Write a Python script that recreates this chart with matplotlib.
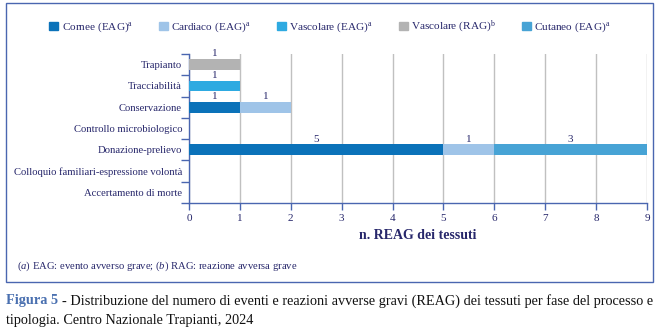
import matplotlib
matplotlib.use('Agg')
import matplotlib.pyplot as plt
from matplotlib.patches import Rectangle, Patch
import numpy as np

plt.rcParams['font.family'] = 'Liberation Serif'
plt.rcParams['mathtext.fontset'] = 'custom'
plt.rcParams['mathtext.rm'] = 'Liberation Serif'
plt.rcParams['mathtext.it'] = 'Liberation Serif:italic'

# data
phases = ['Trapianto', 'Tracciabilità', 'Conservazione', 'Controllo microbiologico',
          'Donazione-prelievo', 'Colloquio familiari-espressione volontà',
          'Accertamento di morte']
series = ['Cornee (EAG)$^{\\mathrm{a}}$', 'Cardiaco (EAG)$^{\\mathrm{a}}$',
          'Vascolare (EAG)$^{\\mathrm{a}}$', 'Vascolare (RAG)$^{\\mathrm{b}}$',
          'Cutaneo (EAG)$^{\\mathrm{a}}$']
cornee = [0, 0, 1, 0, 5, 0, 0]
cardiaco = [0, 0, 1, 0, 1, 0, 0]
vascolare_eag = [0, 1, 0, 0, 0, 0, 0]
vascolare_rag = [1, 0, 0, 0, 0, 0, 0]
cutaneo = [0, 0, 0, 0, 3, 0, 0]
colors = ['#0b72b9', '#9fc4e8', '#2eaae1', '#b3b3b3', '#47a3d5']

txt = '#27276b'
spine = '#4a66b0'

fig = plt.figure(figsize=(6.6, 3.32), dpi=100)
ax = fig.add_axes([0.2864, 0.3886, 0.6939, 0.4487])

y = np.arange(len(phases))
left = np.zeros(len(phases))
for vals, c, lab in zip([cornee, cardiaco, vascolare_eag, vascolare_rag, cutaneo], colors, series):
    vals = np.array(vals, dtype=float)
    ax.barh(y, vals, left=left, height=0.5, color=c, label=lab, zorder=3)
    for yi, (l, v) in enumerate(zip(left, vals)):
        if v > 0:
            ax.text(l + v / 2, yi - 0.29, '%d' % v, ha='center', va='bottom',
                    fontsize=8, color=txt)
    left += vals

ax.set_xlim(0, 9)
ax.set_ylim(len(phases) - 0.5, -0.5)
ax.set_xticks(range(10))
ax.grid(axis='x', color='#c0c0c0', lw=1, zorder=0)
ax.set_yticks(y)
ax.set_yticklabels(phases)
ax.set_yticks(np.arange(-0.5, len(phases)), minor=True)
ax.tick_params(axis='y', which='major', length=0, pad=5, labelsize=7.7, labelcolor=txt)
ax.tick_params(axis='y', which='minor', length=6, color=spine, width=1)
ax.tick_params(axis='x', length=5, color=spine, width=1, labelsize=8, labelcolor=txt, pad=3)
for s in ['top', 'right']:
    ax.spines[s].set_visible(False)
for s in ['left', 'bottom']:
    ax.spines[s].set_color(spine)
    ax.spines[s].set_linewidth(1)
ax.set_xlabel('n. REAG dei tessuti', fontsize=10, fontweight='bold', color=txt, labelpad=4)

handles = [Patch(color=c) for c in colors]
fig.legend(handles, series, loc='center', bbox_to_anchor=(0.5, 0.918), ncol=5,
           frameon=False, fontsize=8.1, labelcolor=txt, handlelength=0.8,
           handleheight=0.8, handletextpad=0.3, columnspacing=2.3)

# outer frame
fig.patches.append(Rectangle((0.009, 0.15), 0.981, 0.84, transform=fig.transFigure,
                             fill=False, edgecolor=spine, lw=1))

fig.text(0.026, 0.198, '$\\it{(a)}$ EAG: evento avverso grave; $\\it{(b)}$ RAG: reazione avversa grave',
         fontsize=7.7, color=txt, va='center')

cap1 = fig.text(0.009, 0.094, 'Figura 5', fontsize=10.3, fontweight='bold', color='#4a70b0', va='center')
fig.canvas.draw()
bb = cap1.get_window_extent().transformed(fig.transFigure.inverted())
fig.text(bb.x1 + 0.006, 0.094,
         '- Distribuzione del numero di eventi e reazioni avverse gravi (REAG) dei tessuti per fase del processo e',
         fontsize=10.3, color='#111111', va='center')
fig.text(0.009, 0.036, 'tipologia. Centro Nazionale Trapianti, 2024', fontsize=10.3, color='#111111', va='center')

fig.savefig('out.png', dpi=100)
